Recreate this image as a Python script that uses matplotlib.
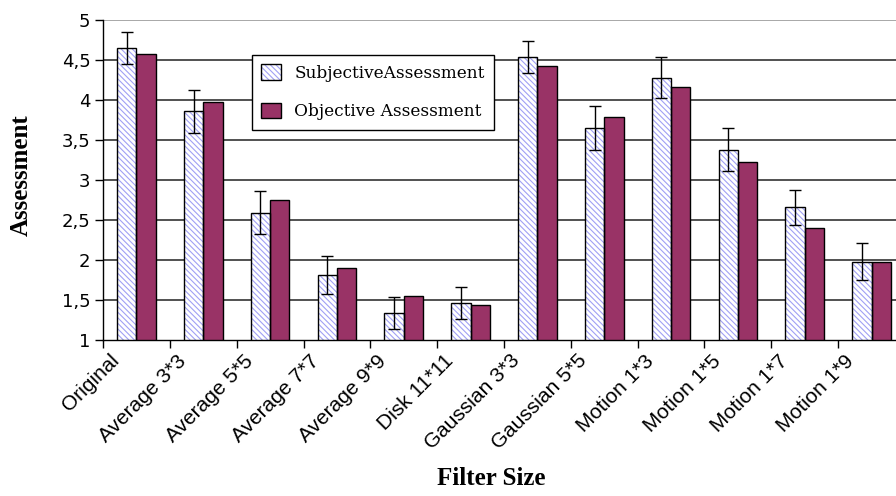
import matplotlib.pyplot as plt
import matplotlib.transforms as mtransforms
from matplotlib.patches import Patch
import numpy as np

filters = [
    "Original", "Average 3*3", "Average 5*5", "Average 7*7", "Average 9*9",
    "Disk 11*11", "Gaussian 3*3", "Gaussian 5*5", "Motion 1*3", "Motion 1*5",
    "Motion 1*7", "Motion 1*9",
]
subjective = [4.65, 3.86, 2.59, 1.81, 1.34, 1.46, 4.54, 3.65, 4.28, 3.38, 2.66, 1.98]
subjective_err = [0.20, 0.27, 0.27, 0.24, 0.20, 0.20, 0.20, 0.28, 0.26, 0.27, 0.22, 0.23]
objective = [4.58, 3.97, 2.75, 1.90, 1.55, 1.44, 4.43, 3.79, 4.16, 3.23, 2.40, 1.98]

purple = "#993366"
hatch_blue = "#a0a0f4"
hatch = "\\" * 6
plt.rcParams["hatch.linewidth"] = 0.8

fig = plt.figure(figsize=(8.96, 4.96), dpi=100)
ax = fig.add_axes([0.115, 0.3145, 0.895, 0.6452])

centers = np.arange(len(filters)) + 0.5
w = 0.29
base = 1.0

# subjective: white bar with blue hatching, black outline drawn over it
ax.bar(centers - w / 2, np.array(subjective) - base, w, bottom=base,
       color="white", edgecolor=hatch_blue, hatch=hatch, linewidth=0, zorder=3)
ax.bar(centers - w / 2, np.array(subjective) - base, w, bottom=base,
       color="none", edgecolor="black", linewidth=1.0, zorder=4)
ax.errorbar(centers - w / 2, subjective, yerr=subjective_err, fmt="none",
            ecolor="black", elinewidth=1.0, capsize=4.5, capthick=1.0, zorder=5)
ax.bar(centers + w / 2, np.array(objective) - base, w, bottom=base,
       color=purple, edgecolor="black", linewidth=1.0, zorder=3)

ax.set_xlim(0, len(filters))
ax.set_ylim(1, 5)
ax.set_yticks(np.arange(1, 5.01, 0.5))
ax.set_yticklabels(["1", "1,5", "2", "2,5", "3", "3,5", "4", "4,5", "5"],
                   fontsize=13, family="DejaVu Sans")
for y in np.arange(1.5, 4.51, 0.5):
    ax.axhline(y, color="#333333", linewidth=1.2, zorder=1)
ax.axhline(5, color="#999999", linewidth=1.2, zorder=1)

ax.set_xticks(np.arange(len(filters)))
ax.set_xticklabels([])
ax.set_xticks(centers, minor=True)
ax.set_xticklabels(filters, minor=True, rotation=45, ha="right",
                   rotation_mode="anchor", fontsize=15, family="Liberation Sans")
ax.tick_params(axis="x", which="minor", length=0, pad=8)
ax.tick_params(axis="x", which="major", length=6, direction="out", width=1)
ax.tick_params(axis="y", length=6, direction="out", width=1, pad=3)
offset = mtransforms.ScaledTranslation(-27 / 100, 0, fig.dpi_scale_trans)
for lbl in ax.get_xticklabels(minor=True):
    lbl.set_transform(lbl.get_transform() + offset)

for side in ["top", "right"]:
    ax.spines[side].set_visible(False)
ax.spines["left"].set_linewidth(1.0)
ax.spines["bottom"].set_linewidth(1.0)

fig.text(0.0234, 0.647, "Assessment", rotation=90, ha="center", va="center",
         fontsize=18, fontweight="bold", family="Liberation Serif")
fig.text(0.548, 0.036, "Filter Size", ha="center", va="center",
         fontsize=18, fontweight="bold", family="Liberation Serif")

sub_h = (Patch(facecolor="white", edgecolor=hatch_blue, hatch=hatch, linewidth=0),
         Patch(facecolor="none", edgecolor="black", linewidth=1.0))
obj_h = Patch(facecolor=purple, edgecolor="black", linewidth=1.0)
leg = fig.legend([sub_h, obj_h], ["SubjectiveAssessment", "Objective Assessment"],
                 loc="upper left", bbox_to_anchor=(0.281, 0.889),
                 prop={"family": "DejaVu Serif", "size": 12.2},
                 frameon=True, fancybox=False, edgecolor="black", framealpha=1,
                 borderpad=0.55, labelspacing=1.25, handlelength=1.2, handleheight=1.0,
                 handletextpad=0.75, borderaxespad=0)
leg.get_frame().set_linewidth(1.0)

fig.savefig("out.png", dpi=100)
